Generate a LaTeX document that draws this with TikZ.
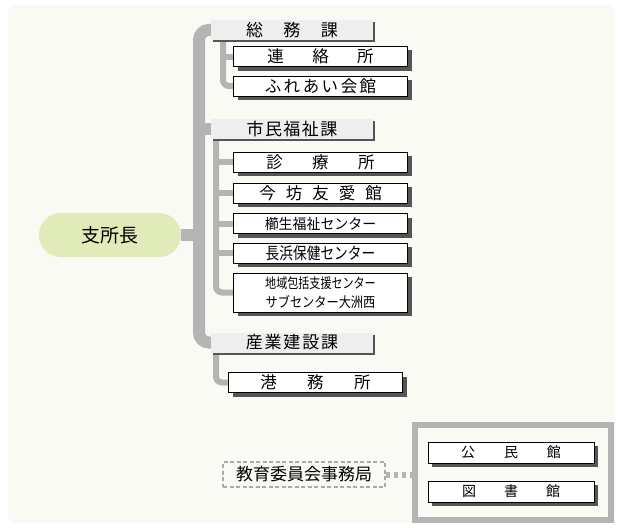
\documentclass[tikz,border=0pt]{standalone}
\usepackage{fontspec}
\usepackage{graphicx}
\newfontfamily\jp{Noto Sans CJK JP}
\usetikzlibrary{shadows}
\definecolor{paper}{HTML}{F9FAF3}
\definecolor{pillgreen}{HTML}{E1EBB9}
\definecolor{bargray}{HTML}{B4B4B4}
\definecolor{secgray}{HTML}{EEEEEE}
\definecolor{shadowgray}{HTML}{555555}
\definecolor{dashgray}{HTML}{AAAAAA}
\pgfdeclarelayer{paperlayer}
\pgfdeclarelayer{wires}
\pgfsetlayers{paperlayer,wires,main}
\newcommand{\jpsize}[1]{\jp\fontsize{#1}{#1}\selectfont}
\newcommand{\gap}[1]{\hspace{#1pt}}
\begin{document}
\begin{tikzpicture}[
        x=1pt, y=-1pt,
        chief/.style={fill=pillgreen, rounded corners=22pt, minimum width=142pt, minimum height=44pt, inner sep=0pt, font=\jpsize{19}},
        secbox/.style={fill=secgray, minimum width=162pt, minimum height=20pt, inner sep=0pt,
            general shadow={fill=shadowgray, shadow xshift=2pt, shadow yshift=-2pt}, font=\jpsize{17}},
        unitbox/.style={draw=black, line width=0.8pt, fill=white, minimum width=174pt, minimum height=20pt, inner sep=0pt,
            general shadow={fill=shadowgray, shadow xshift=4pt, shadow yshift=-4pt}, font=\jpsize{16.5}},
        smallbox/.style={unitbox, minimum width=166pt, minimum height=21pt, font=\jpsize{14}},
        trunk/.style={draw=bargray, line width=12pt, rounded corners=10pt},
        branch/.style={draw=bargray, line width=6pt, rounded corners=6pt},
        dotlink/.style={draw=bargray, line width=6pt, dash pattern=on 4pt off 4pt},
    ]
    \useasboundingbox (0,0) rectangle (620,527);
    \begin{pgfonlayer}{paperlayer}
        \fill[paper, rounded corners=8pt] (8,5) rectangle (615,523);
    \end{pgfonlayer}

    % head of the branch office
    \node[chief] (chief) at (110,235) {支\gap{0.5}所\gap{0.5}長};

    % sections
    \node[secbox] (soumu) at (292,30) {総\gap{20.5}務\gap{20.5}課};
    \node[secbox] (shimin) at (292,129) {市\gap{1.5}民\gap{1.5}福\gap{1.5}祉\gap{1.5}課};
    \node[secbox] (sangyo) at (292,342.5) {産\gap{1.8}業\gap{1.8}建\gap{1.8}設\gap{1.8}課};

    % units
    \node[unitbox] (renraku) at (320.5,56.5) {連\gap{28.5}絡\gap{28.5}所};
    \node[unitbox] (fureai) at (320.5,86) {ふ\gap{2.5}れ\gap{2.5}あ\gap{2.5}い\gap{2.5}会\gap{2.5}館};
    \node[unitbox] (shinryo) at (320.5,162) {診\gap{29.5}療\gap{29.5}所};
    \node[unitbox] (imabou) at (320.5,193) {今\gap{10}坊\gap{10}友\gap{10}愛\gap{10}館};
    \node[unitbox, font=\jpsize{14.5}] (kushu) at (320.5,223.5) {\scalebox{0.96}[1]{櫛生福祉センター}};
    \node[unitbox] (nagahama) at (320.5,253) {\scalebox{0.83}[1]{長浜保健センター}};
    \node[unitbox, minimum height=39pt, align=center, font=\jp\fontsize{14}{18.5}\selectfont] (houkatsu) at (320.5,292.5)
        {\scalebox{0.79}[1]{地域包括支援センター}\\\scalebox{0.87}[1]{サブセンター大洲西}};
    \node[unitbox] (koumu) at (315.5,382.5) {港\gap{30.5}務\gap{30.5}所};

    % board of education
    \node[draw=dashgray, line width=1.5pt, dash pattern=on 4pt off 2.5pt, minimum width=162pt, minimum height=25pt,
        inner sep=0pt, font=\jpsize{17}] (kyoiku) at (304,474.5) {教育委員会事務局};
    \node[draw=bargray, line width=6pt, minimum width=196pt, minimum height=95pt, inner sep=0pt] (annex) at (513,472.5) {};
    \node[smallbox] (kominkan) at (511,452.5) {公\gap{29}民\gap{29}館};
    \node[smallbox] (tosho) at (511,491.5) {図\gap{28}書\gap{28}館};

    \coordinate (trunkx) at (199,0);
    \coordinate (soumux) at (223,0);
    \coordinate (shiminx) at (216,0);

    \begin{pgfonlayer}{wires}
        \draw[trunk] (soumu.west) -- (soumu.west -| trunkx) -- (sangyo.west -| trunkx) -- (sangyo.west);
        \draw[trunk, rounded corners=0pt] (chief.east) -- (chief.east -| trunkx);
        \draw[trunk, rounded corners=0pt] (shimin.west -| trunkx) -- (shimin.west);
        % sub branches
        \draw[branch] (soumu.south -| soumux) |- (fureai.west);
        \draw[branch] (renraku.west -| soumux) -- (renraku.west);
        \draw[branch] (shimin.south -| shiminx) |- (houkatsu.west);
        \foreach \unit in {shinryo, imabou, kushu, nagahama}
            \draw[branch] (\unit.west -| shiminx) -- (\unit.west);
        \draw[branch] (sangyo.south -| shiminx) |- (koumu.west);
        \draw[dotlink] (kyoiku.east) -- (kyoiku.east -| annex.west);
    \end{pgfonlayer}
\end{tikzpicture}
\end{document}
